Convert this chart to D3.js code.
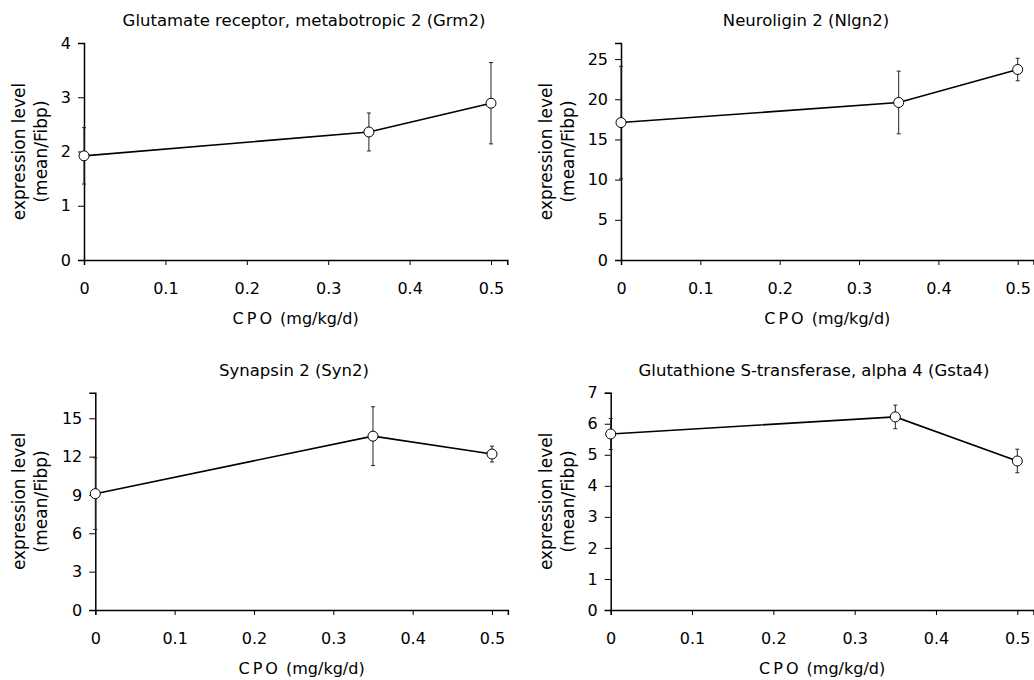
<!DOCTYPE html>
<html>
<head>
<meta charset="utf-8">
<script src="https://cdn.jsdelivr.net/npm/d3@7"></script>
<style>
    body { margin: 0; background: #fff; }
    text { font-family: "DejaVu Sans", sans-serif; fill: #000; }
    .axis path, .axis line { stroke: #000; }
    .axis text { font-size: 16px; font-family: "DejaVu Sans", sans-serif; }
</style>
</head>
<body>
<div id="chart"></div>
<script>
// Data
// ==============================
var doses = [0, 0.35, 0.5];
var xTicks = [0, 0.1, 0.2, 0.3, 0.4, 0.5];

var grm2Mean = [1.92, 2.36, 2.89];
var grm2Err = [0.52, 0.35, 0.75];
var grm2Ticks = [0, 1, 2, 3, 4];

var nlgn2Mean = [17.1, 19.6, 23.7];
var nlgn2Err = [7.0, 3.9, 1.4];
var nlgn2Ticks = [0, 5, 10, 15, 20, 25];

var syn2Mean = [9.1, 13.6, 12.2];
var syn2Err = [2.8, 2.3, 0.62];
var syn2Ticks = [0, 3, 6, 9, 12, 15];

var gsta4Mean = [5.67, 6.22, 4.80];
var gsta4Err = [0.5, 0.38, 0.38];
var gsta4Ticks = [0, 1, 2, 3, 4, 5, 6, 7];

var titles = [
    "Glutamate receptor, metabotropic 2 (Grm2)",
    "Neuroligin 2 (Nlgn2)",
    "Synapsin 2 (Syn2)",
    "Glutathione S-transferase, alpha 4 (Gsta4)"
];
var yMax = [4, 27, 17, 7];

// Layout of the four panels
// ==============================
var panels = [
    { mean: grm2Mean, err: grm2Err, ticks: grm2Ticks, x0: 84, x05: 491, top: 43, bottom: 260, titleX: 304, ylab: 25 },
    { mean: nlgn2Mean, err: nlgn2Err, ticks: nlgn2Ticks, x0: 621, x05: 1017.7, top: 43, bottom: 260, titleX: 806, ylab: 552 },
    { mean: syn2Mean, err: syn2Err, ticks: syn2Ticks, x0: 95.3, x05: 492, top: 392.7, bottom: 610, titleX: 294, ylab: 25 },
    { mean: gsta4Mean, err: gsta4Err, ticks: gsta4Ticks, x0: 610.7, x05: 1017.3, top: 392.7, bottom: 610, titleX: 814, ylab: 552 }
];

var svg = d3.select("#chart")
    .append("svg")
    .attr("width", 1034)
    .attr("height", 680);

panels.forEach((p, i) => {
    var g = svg.append("g");

    var xScale = d3.scaleLinear()
        .domain([0, 0.52])
        .range([p.x0, p.x0 + (p.x05 - p.x0) * 1.04]);

    var yScale = d3.scaleLinear()
        .domain([0, yMax[i]])
        .range([p.bottom, p.top]);

    // axes
    g.append("g")
        .attr("class", "axis")
        .attr("transform", `translate(0, ${p.bottom})`)
        .call(d3.axisBottom(xScale)
            .tickValues(xTicks)
            .tickFormat(d => String(+d.toFixed(1)))
            .tickSizeOuter(0)
            .tickSize(5)
            .tickPadding(18))
        .call(a => a.select(".domain").attr("stroke-width", 1.5));

    g.append("g")
        .attr("class", "axis")
        .attr("transform", `translate(${p.x0}, 0)`)
        .call(d3.axisLeft(yScale)
            .tickValues(p.ticks)
            .tickFormat(d => String(d))
            .tickSizeOuter(0)
            .tickSize(6)
            .tickPadding(7))
        .call(a => a.select(".domain").attr("stroke-width", 1.5));

    // title
    g.append("text")
        .attr("x", p.titleX)
        .attr("y", p.top - 17)
        .attr("text-anchor", "middle")
        .style("font-size", "16.5px")
        .text(titles[i]);

    // x label
    var xl = g.append("text")
        .attr("x", (p.x0 + xScale.range()[1]) / 2)
        .attr("y", p.bottom + 64)
        .attr("text-anchor", "middle")
        .style("font-size", "16px");
    xl.append("tspan").style("letter-spacing", "3px").text("CPO");
    xl.append("tspan").text(" (mg/kg/d)");

    // y label, two lines
    var cy = (p.top + p.bottom) / 2;
    g.append("text")
        .attr("transform", `translate(${p.ylab}, ${cy}) rotate(-90)`)
        .attr("text-anchor", "middle")
        .style("font-size", "17px")
        .text("expression level");
    g.append("text")
        .attr("transform", `translate(${p.ylab + 22}, ${cy}) rotate(-90)`)
        .attr("text-anchor", "middle")
        .style("font-size", "17px")
        .text("(mean/Fibp)");

    var pts = doses.map((d, j) => ({ dose: d, mean: p.mean[j], err: p.err[j] }));

    // error bars
    var eb = g.selectAll(".eb")
        .data(pts)
        .enter()
        .append("g")
        .attr("stroke", "#222")
        .attr("stroke-width", 1);
    eb.append("line")
        .attr("x1", d => xScale(d.dose))
        .attr("x2", d => xScale(d.dose))
        .attr("y1", d => yScale(d.mean - d.err))
        .attr("y2", d => yScale(d.mean + d.err));
    eb.append("line")
        .attr("x1", d => xScale(d.dose) - 2)
        .attr("x2", d => xScale(d.dose) + 2)
        .attr("y1", d => yScale(d.mean + d.err))
        .attr("y2", d => yScale(d.mean + d.err));
    eb.append("line")
        .attr("x1", d => xScale(d.dose) - 2)
        .attr("x2", d => xScale(d.dose) + 2)
        .attr("y1", d => yScale(d.mean - d.err))
        .attr("y2", d => yScale(d.mean - d.err));

    // line
    var line = d3.line()
        .x(d => xScale(d.dose))
        .y(d => yScale(d.mean));

    g.append("path")
        .datum(pts)
        .attr("d", line)
        .attr("fill", "none")
        .attr("stroke", "#000")
        .attr("stroke-width", 1.6);

    // markers
    g.selectAll("circle")
        .data(pts)
        .enter()
        .append("circle")
        .attr("cx", d => xScale(d.dose))
        .attr("cy", d => yScale(d.mean))
        .attr("r", 5)
        .attr("fill", "#fff")
        .attr("stroke", "#000")
        .attr("stroke-width", 1);
});
</script>
</body>
</html>
